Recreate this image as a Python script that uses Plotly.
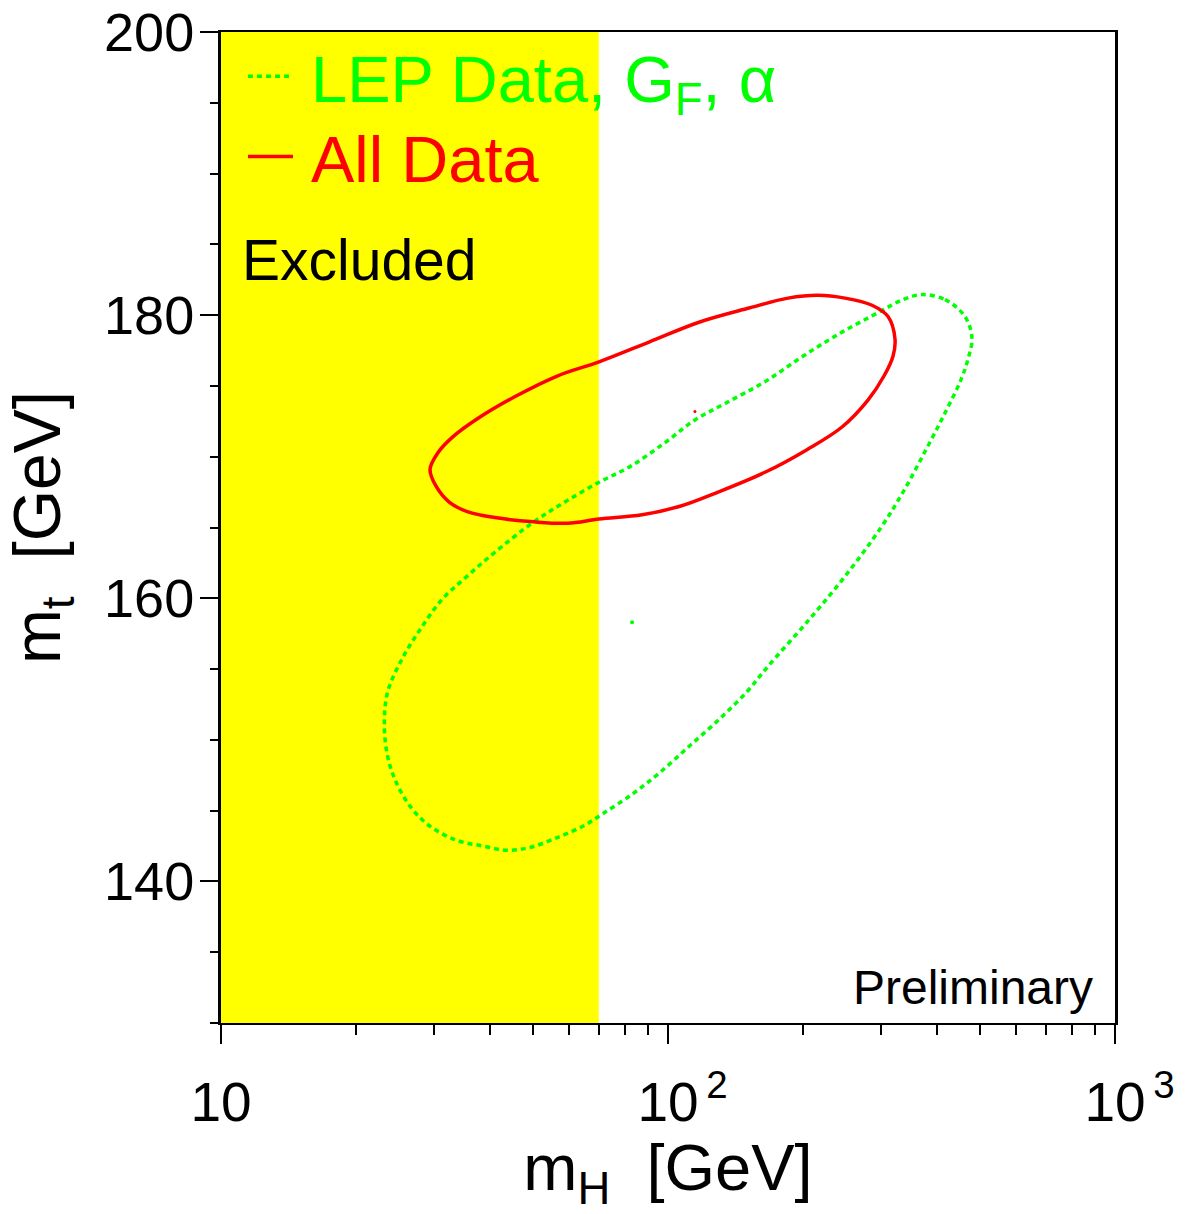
import plotly.graph_objects as go

# ---- data ----
# All Data contour (m_H [GeV], m_t [GeV])
all_mh = [29.35, 30.6, 33.0, 37.97, 45.5, 56.5, 70.1, 90.7, 117.3, 151.8, 185.6, 216.6,
          248.9, 286.0, 310.6, 322.0, 318.7, 304.2, 280.1, 245.1, 204.6, 164.8, 129.4,
          106.4, 87.5, 70.1, 59.7, 50.1, 41.0, 35.7, 32.4, 30.3, 29.35]
all_mt = [169.1, 170.3, 171.4, 172.8, 174.25, 175.7, 176.7, 178.1, 179.5, 180.5, 181.2, 181.4,
          181.2, 180.7, 179.9, 178.3, 177.1, 175.7, 174.0, 172.1, 170.5, 168.9, 167.5,
          166.5, 165.9, 165.6, 165.3, 165.4, 165.7, 166.1, 166.8, 167.9, 169.1]

# LEP Data, G_F, alpha contour
lep_mh = [370.0, 416.7, 461.7, 478.6, 469.0, 452.4, 416.7, 377.7, 335.6, 298.1, 248.9, 205.7,
          167.4, 150.2, 130.7, 112.0, 95.96, 83.5, 71.6, 64.5, 56.5, 49.1, 43.6, 38.6, 33.7,
          29.35, 26.5, 24.5, 23.5, 23.2, 23.6, 25.4, 27.9, 31.2, 35.5, 41.0, 50.1, 58.8, 70.1,
          82.2, 98.5, 114.9, 134.9, 164.8, 200.4, 245.1, 298.1, 335.6, 370.0]
lep_mt = [181.45, 181.1, 179.9, 178.4, 176.9, 175.45, 173.1, 170.5, 167.5, 164.9, 161.55, 158.4,
          155.2, 153.4, 151.5, 149.6, 147.7, 146.2, 144.8, 143.9, 143.1, 142.4, 142.2, 142.5, 142.9,
          143.9, 145.3, 147.2, 149.1, 151.25, 153.4, 155.7, 157.8, 159.9, 161.55, 163.25, 165.4, 166.8, 168.2,
          169.3, 171.0, 172.6, 173.8, 175.3, 177.1, 178.8, 180.25, 181.1, 181.45]

# best-fit points
all_best = (114.9, 173.2)
lep_best = (83.1, 158.3)

excluded_limit = 70.0   # m_H excluded below this value
x_range = (10, 1000)
y_range = (130, 200)
x_tickvals = [10, 100, 1000]
x_ticktext = ["10",
              "<sup><span style='color:rgba(0,0,0,0)'>\u20092</span></sup>10<sup>\u20092</sup>",
              "<sup><span style='color:rgba(0,0,0,0)'>\u20093</span></sup>10<sup>\u20093</sup>"]
y_tickvals = [140, 160, 180, 200]

GREEN = "#00ff00"
RED = "#ff0000"
FONT = "Liberation Sans, Arial, Helvetica, sans-serif"

fig = go.Figure()

fig.add_trace(go.Scatter(
    x=lep_mh, y=lep_mt, mode="lines", name="\u2009LEP Data, G<sub>F</sub>, \u03b1",
    line=dict(color=GREEN, width=3.5, dash="5px,4px", shape="spline", smoothing=1.0),
    legend="legend"))
fig.add_trace(go.Scatter(
    x=all_mh, y=all_mt, mode="lines", name="\u2009All Data",
    line=dict(color=RED, width=3.5, shape="spline", smoothing=1.0), legend="legend2"))
fig.add_trace(go.Scatter(
    x=[lep_best[0]], y=[lep_best[1]], mode="markers", showlegend=False,
    marker=dict(color=GREEN, size=4)))
fig.add_trace(go.Scatter(
    x=[all_best[0]], y=[all_best[1]], mode="markers", showlegend=False,
    marker=dict(color=RED, size=3)))

fig.add_shape(type="rect", xref="x", yref="y", x0=x_range[0], x1=excluded_limit,
              y0=y_range[0], y1=y_range[1], fillcolor="#ffff00", line=dict(width=0),
              layer="below")

fig.add_annotation(text="Excluded", xref="paper", yref="paper", x=0.021, y=0.770,
                   xanchor="left", yanchor="middle", showarrow=False,
                   font=dict(family=FONT, size=57, color="black"))
fig.add_annotation(text="Preliminary", xref="paper", yref="paper", x=0.9776, y=0.036,
                   xanchor="right", yanchor="middle", showarrow=False,
                   font=dict(family=FONT, size=48, color="black"))

fig.update_layout(
    width=1197, height=1214,
    margin=dict(l=221, r=82, t=32, b=191, autoexpand=False),
    paper_bgcolor="white", plot_bgcolor="white",
    font=dict(family=FONT, color="black"),
    legend=dict(x=0.0246, y=0.955, xanchor="left", yanchor="middle",
                bgcolor="rgba(0,0,0,0)", borderwidth=0, itemwidth=45,
                font=dict(family=FONT, size=65, color=GREEN)),
    legend2=dict(x=0.0246, y=0.874, xanchor="left", yanchor="middle",
                 bgcolor="rgba(0,0,0,0)", borderwidth=0, itemwidth=45,
                 font=dict(family=FONT, size=65, color=RED)),
    xaxis=dict(type="log", range=[1, 3], tickvals=x_tickvals, ticktext=x_ticktext,
               automargin=False,
               ticks="outside", ticklen=19, tickwidth=2, tickcolor="black",
               minor=dict(dtick="D1", ticks="outside", ticklen=10, tickwidth=2, tickcolor="black"),
               showline=True, linewidth=2, linecolor="black", mirror=True,
               showgrid=False, zeroline=False, ticklabelstandoff=11,
               tickfont=dict(family=FONT, size=55, color="black"),
               title=dict(text="m<sub>H</sub>\u00a0\u00a0[GeV]", standoff=4,
                          font=dict(family=FONT, size=65, color="black"))),
    yaxis=dict(range=list(y_range), tickvals=y_tickvals, automargin=False,
               ticks="outside", ticklen=18, tickwidth=2, tickcolor="black",
               minor=dict(dtick=5, ticks="outside", ticklen=8, tickwidth=2, tickcolor="black"),
               showline=True, linewidth=3, linecolor="black", mirror=True,
               showgrid=False, zeroline=False, ticklabelstandoff=-5,
               tickfont=dict(family=FONT, size=54, color="black"),
               title=dict(text="m<sub>t</sub>\u00a0\u00a0[GeV]", standoff=22,
                          font=dict(family=FONT, size=66, color="black"))),
)

fig.write_html("out.html", config={"displayModeBar": False},
               post_script="document.body.style.margin='0px';")
